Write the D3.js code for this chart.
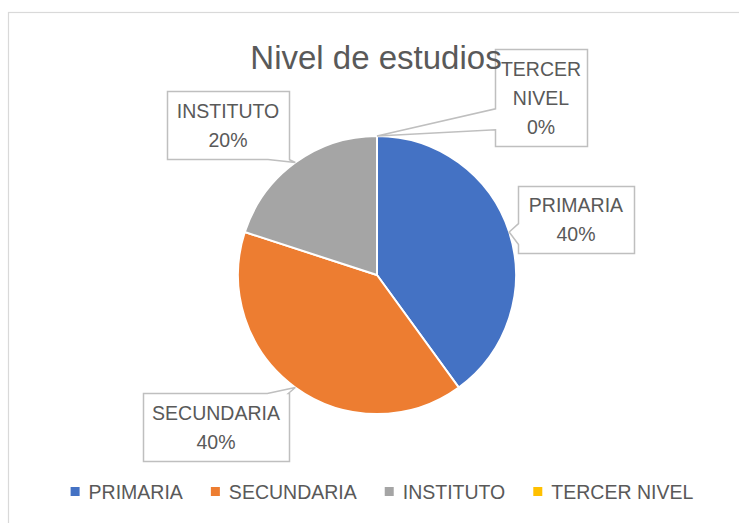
<!DOCTYPE html>
<html>
<head>
<meta charset="utf-8">
<script src="https://cdn.jsdelivr.net/npm/d3@7"></script>
<style>
  body { margin: 0; background: #fff; }
  text { font-family: "Liberation Sans", Arial, sans-serif; fill: #595959; }
</style>
</head>
<body>
<div id="chart"></div>
<script>
// data
var categories = ["PRIMARIA", "SECUNDARIA", "INSTITUTO", "TERCER NIVEL"];
var values = [40, 40, 20, 0];
var colors = ["#4472C4", "#ED7D31", "#A5A5A5", "#FFC000"];
var labelLines = [["PRIMARIA"], ["SECUNDARIA"], ["INSTITUTO"], ["TERCER", "NIVEL"]];
var title = "Nivel de estudios";

// callout layout: box offset from tip, box size, side of pointer, pointer position along edge
var callouts = [
  {dx: 9, dy: -46, w: 116, h: 67, side: "left", f: 0.71},
  {dx: -152, dy: 6, w: 146, h: 68, side: "top", f: 0.92},
  {dx: -128, dy: -72, w: 122, h: 68, side: "bottom", f: 0.91},
  {dx: 118, dy: -87, w: 92, h: 97, side: "left", f: 0.72}
];

var width = 739, height = 523;
var cx = 377, cy = 275, radius = 139;

var svg = d3.select("#chart").append("svg")
  .attr("width", width)
  .attr("height", height);

// chart border
svg.append("rect")
  .attr("x", 8.5).attr("y", 12.5)
  .attr("width", 760).attr("height", 540)
  .attr("fill", "none")
  .attr("stroke", "#D9D9D9")
  .attr("stroke-width", 1.2);

var total = d3.sum(values);
var pie = d3.pie().sort(null).value(d => d);
var arcs = pie(values);
var arc = d3.arc().innerRadius(0).outerRadius(radius);

var g = svg.append("g")
  .attr("transform", "translate(" + cx + "," + cy + ")");

g.selectAll(".slice")
  .data(arcs)
  .enter().append("path")
  .attr("class", "slice")
  .attr("d", arc)
  .attr("fill", (d, i) => colors[i])
  .attr("stroke", "#fff")
  .attr("stroke-width", 2);

function calloutPath(x, y, w, h, tip, side, f) {
  var half = 10.5, p = [];
  var bx = Math.max(x + half, Math.min(x + w - half, x + f * w));
  var by = Math.max(y + half, Math.min(y + h - half, y + f * h));
  p.push([x, y]);
  if (side == "top") p.push([bx - half, y], tip, [bx + half, y]);
  p.push([x + w, y]);
  if (side == "right") p.push([x + w, by - half], tip, [x + w, by + half]);
  p.push([x + w, y + h]);
  if (side == "bottom") p.push([bx + half, y + h], tip, [bx - half, y + h]);
  p.push([x, y + h]);
  if (side == "left") p.push([x, by + half], tip, [x, by - half]);
  return "M" + p.map(q => q[0] + "," + q[1]).join("L") + "Z";
}

var labels = svg.append("g");

arcs.forEach(function(d, i) {
  var c = callouts[i];
  var mid = (d.startAngle + d.endAngle) / 2;
  var tip = [cx + radius * Math.sin(mid), cy - radius * Math.cos(mid)];
  var bx = Math.round(tip[0] + c.dx), by = Math.round(tip[1] + c.dy);

  labels.append("path")
    .attr("d", calloutPath(bx + 0.5, by + 0.5, c.w, c.h, tip, c.side, c.f))
    .attr("fill", "#fff")
    .attr("stroke", "#BFBFBF")
    .attr("stroke-width", 1.5);

  var lines = labelLines[i].concat([Math.round(values[i] / total * 100) + "%"]);
  var lh = 29;
  var y0 = by + c.h / 2 - (lines.length - 1) * lh / 2 + 7;
  lines.forEach(function(t, j) {
    labels.append("text")
      .attr("x", bx + c.w / 2)
      .attr("y", y0 + j * lh)
      .attr("text-anchor", "middle")
      .style("font-size", "19.5px")
      .text(t);
  });
});

// title drawn over the callouts, as in the original
svg.append("text")
  .attr("x", 376).attr("y", 69)
  .attr("text-anchor", "middle")
  .style("font-size", "33px")
  .text(title);

// legend
var legend = svg.append("g");
var items = legend.selectAll(".item")
  .data(categories)
  .enter().append("g")
  .attr("class", "item");

items.append("rect")
  .attr("width", 9).attr("height", 9)
  .attr("y", -12)
  .attr("fill", (d, i) => colors[i]);

items.append("text")
  .attr("x", 18)
  .attr("y", 0)
  .style("font-size", "19.5px")
  .text(d => d);

var xPos = 0, pos = [];
items.each(function() {
  pos.push(xPos);
  xPos += this.getBBox().width + 28;
});
var legendWidth = xPos - 28;
var lx = 382 - legendWidth / 2;
items.attr("transform", (d, i) => "translate(" + (lx + pos[i]) + ",499)");
</script>
</body>
</html>
